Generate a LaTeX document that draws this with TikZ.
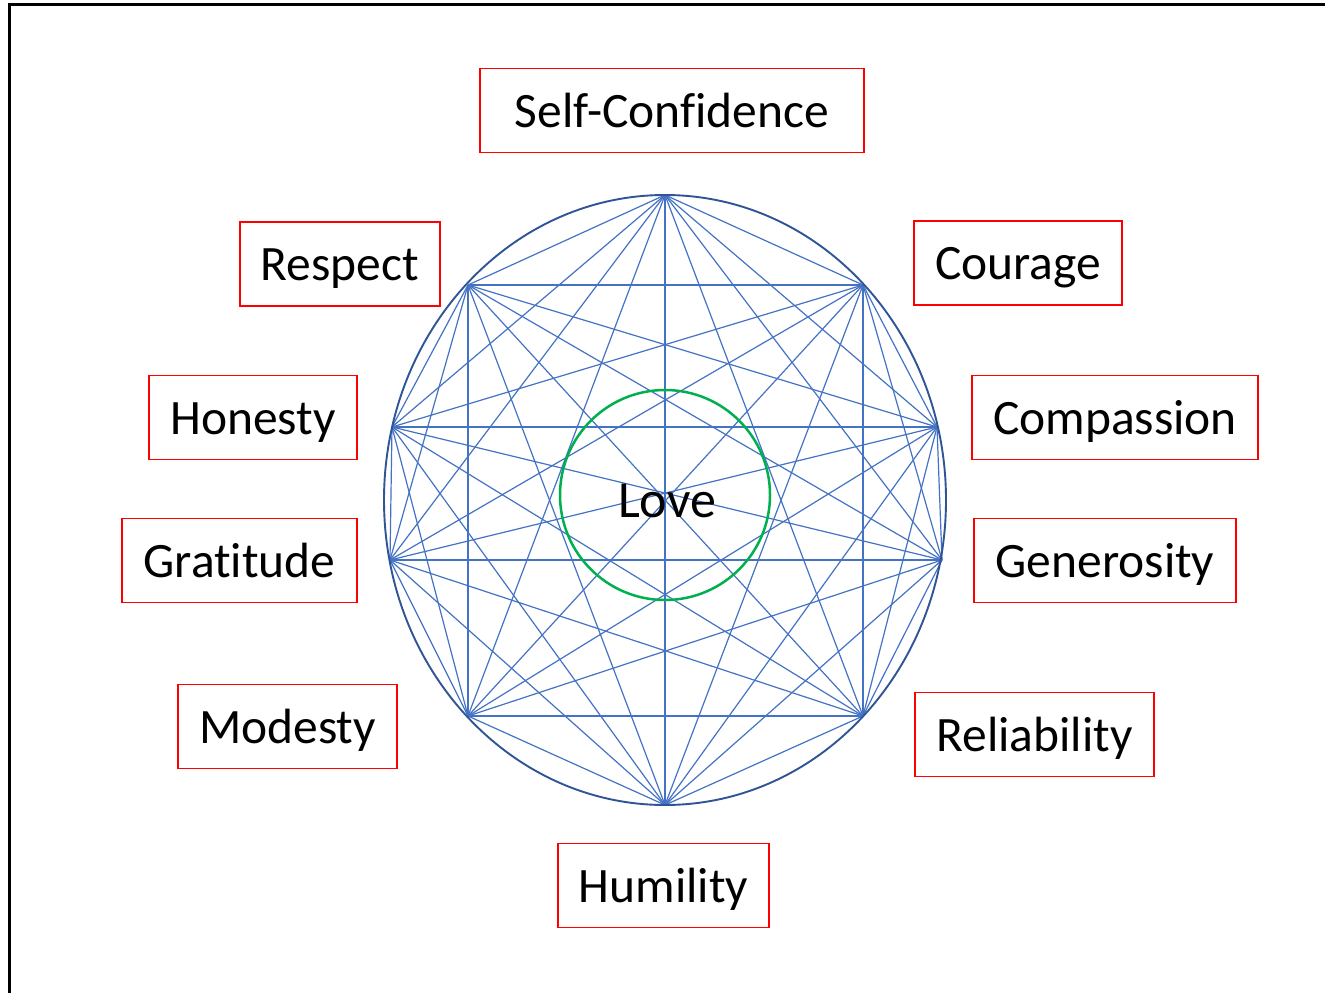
\documentclass[tikz,border=0pt]{standalone}
\usepackage{fontspec}
\setmainfont{Carlito}[RawFeature={-liga;-clig}]
\definecolor{lineblue}{HTML}{4472C4}
\definecolor{rimblue}{HTML}{2F5597}
\definecolor{lovegreen}{HTML}{00B050}
\definecolor{boxred}{HTML}{FF0000}
\begin{document}
\begin{tikzpicture}[x=1pt,y=-1pt,
  vbox/.style={draw=boxred, line width=1.3pt, minimum height=84pt, inner sep=0pt,
    text height=33pt, text depth=0pt,
    font=\fontsize{49.5}{56}\selectfont, text=black, anchor=center},
  chord/.style={draw=lineblue, line width=1.2pt},
  rim/.style={draw=rimblue, line width=1.9pt},
  frameline/.style={draw=black, line width=3pt}]
\useasboundingbox (0,0) rectangle (1325,993);
\fill[white] (0,0) rectangle (1325,993);
\coordinate (f1) at (9,993);
\coordinate (f2) at (9,4);
\coordinate (f3) at (1325,4);
\draw[frameline] (f1) -- (f2) -- (f3);
% vertices
\coordinate (v1) at (665,195);
\coordinate (v2) at (863,285);
\coordinate (v3) at (937,427);
\coordinate (v4) at (942,560);
\coordinate (v5) at (863,716);
\coordinate (v6) at (665,805);
\coordinate (v7) at (468,716);
\coordinate (v8) at (390,560);
\coordinate (v9) at (392,427);
\coordinate (v10) at (468,285);
\coordinate (c) at (665,500);
\foreach \i in {1,...,9}{
  \pgfmathtruncatemacro{\s}{\i+1}
  \foreach \j in {\s,...,10}{
    \draw[chord] (v\i) -- (v\j);
  }
}
\draw[rim] (c) ellipse [x radius=281, y radius=305];
\draw[draw=lovegreen, line width=2.5pt] (665,495) circle [radius=105];
\node[font=\fontsize{52}{58}\selectfont, text=black, inner sep=0pt,
  text height=34pt, text depth=0pt] (love) at (667,500) {Love};
% boxes
\node[vbox, minimum width=384pt] (sc) at (672,110.5) {Self-Confidence};
\node[vbox, minimum width=200pt] (re) at (340,264) {Respect};
\node[vbox, minimum width=208pt] (co) at (1018,263) {Courage};
\node[vbox, minimum width=208pt] (ho) at (253,417.5) {Honesty};
\node[vbox, minimum width=286pt] (cm) at (1115,417.5) {Compassion};
\node[vbox, minimum width=235pt] (gr) at (239.5,560.5) {Gratitude};
\node[vbox, minimum width=262pt] (ge) at (1105,560.5) {Generosity};
\node[vbox, minimum width=219pt] (mo) at (287.5,726.5) {Modesty};
\node[vbox, minimum width=239pt] (rl) at (1034.5,734.5) {Reliability};
\node[vbox, minimum width=211pt] (hu) at (663.5,885.5) {Humility};
\end{tikzpicture}
\end{document}
